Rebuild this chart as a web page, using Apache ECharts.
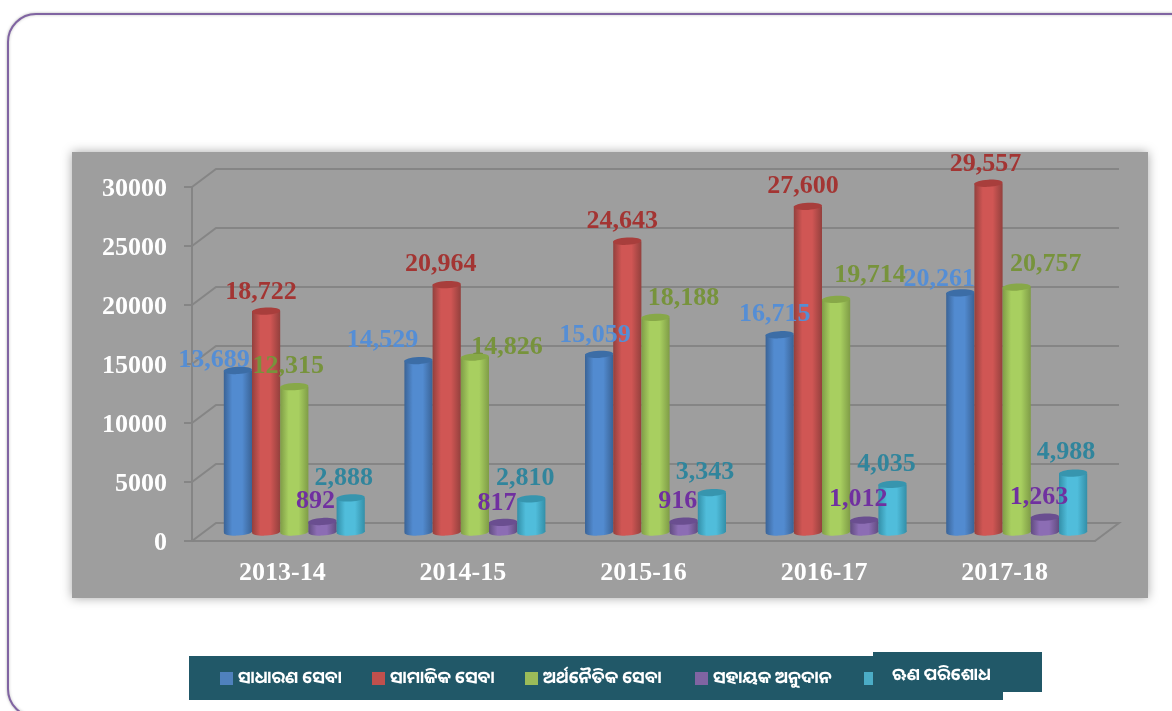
<!DOCTYPE html>
<html>
<head>
  <meta charset="utf-8">
  <title>Expenditure</title>
  <script src="https://cdn.jsdelivr.net/npm/echarts@6/dist/echarts.min.js"></script>
  <style>
    html, body { margin: 0; padding: 0; background: #fff; overflow: hidden; }
  </style>
</head>
<body>
  <div id="container" style="width: 1172px; height: 711px"></div>
  <script>
    var categories = ['2013-14', '2014-15', '2015-16', '2016-17', '2017-18'];
    var seriesNames = ['ସାଧାରଣ ସେବା', 'ସାମାଜିକ ସେବା', 'ଅର୍ଥନୈତିକ ସେବା', 'ସହାୟକ ଅନୁଦାନ', 'ଋଣ ପରିଶୋଧ'];
    var generalService = [13689, 14529, 15059, 16715, 20261];
    var socialService = [18722, 20964, 24643, 27600, 29557];
    var economicService = [12315, 14826, 18188, 19714, 20757];
    var grantsInAid = [892, 817, 916, 1012, 1263];
    var debtRepayment = [2888, 2810, 3343, 4035, 4988];
    var yTicks = [0, 5000, 10000, 15000, 20000, 25000, 30000];

    // per series look: legend, edge, middle, cap, label
    var barColors = ['#4f81bd', '#c0504d', '#9bbb59', '#8064a2', '#4bacc6'];
    var edgeColors = ['#3a6396', '#93403d', '#7f9c47', '#614c80', '#338fa8'];
    var midColors = ['#528bd0', '#d05654', '#a8cf60', '#8c6db4', '#50bddb'];
    var capColors = ['#3c6da6', '#a83e3c', '#87a848', '#6a4e90', '#3795ae'];
    var labelColors = ['#558ed5', '#a33533', '#77933c', '#7030a0', '#31859c'];

    // the data labels were placed by hand in the original, offset from the bar top
    var labelDx = [
      [-24, -36, -4, -5, -21],
      [-5, -6, -5, -5, -3],
      [-6, 32, 28, 34, 29],
      [-7, -6, -6, -6, -6],
      [-7, -6, -7, -6, -7]
    ];
    var labelDy = [
      [-10, -20, -19, -20, -14],
      [-19, -20, -20, -20, -19],
      [-20, -10, -19, -24, -23],
      [-20, -19, -20, -21, -20],
      [-20, -21, -20, -20, -21]
    ];
    var legendLeft = [220, 372, 525, 695, 864];

    var depthX = 24, depthY = 18;   // back wall offset
    var barShiftX = 12, barShiftY = 9; // bars stand half way in
    var barW = 28.2;
    var serif = '"Liberation Serif", "Times New Roman", serif';

    var dom = document.getElementById('container');
    var myChart = echarts.init(dom);

    function renderWall(params, api) {
      var cs = params.coordSys;
      var y = api.coord([0, api.value(0)])[1];
      var right = cs.x + cs.width;
      var pts = [[cs.x, y], [cs.x + depthX, y - depthY], [right + depthX, y - depthY]];
      if (api.value(0) === 0) {
        pts.push([right, y]);
      }
      return {
        type: 'polyline',
        shape: { points: pts },
        style: { stroke: '#858585', lineWidth: 2, fill: null },
        silent: true
      };
    }

    function makeBarRenderer(s) {
      return function (params, api) {
        var c = api.value(0), v = api.value(1);
        var top = api.coord([c, v]);
        var base = api.coord([c, 0]);
        var cx = top[0] + barShiftX + (s - 2) * barW;
        var ty = top[1] - barShiftY;
        var by = base[1] - barShiftY;
        var rx = barW / 2;
        var ry = 3.6;
        var tilt = 0.05;
        var grad = {
          type: 'linear', x: 0, y: 0, x2: 1, y2: 0,
          colorStops: [
            { offset: 0, color: edgeColors[s] },
            { offset: 0.3, color: midColors[s] },
            { offset: 0.65, color: midColors[s] },
            { offset: 1, color: edgeColors[s] }
          ]
        };
        return {
          type: 'group',
          children: [
            { type: 'rect', shape: { x: cx - rx, y: ty, width: barW, height: by - ty }, style: { fill: grad } },
            { type: 'ellipse', shape: { cx: 0, cy: 0, rx: rx, ry: ry }, x: cx, y: by, rotation: tilt, style: { fill: grad } },
            { type: 'ellipse', shape: { cx: 0, cy: 0, rx: rx, ry: ry }, x: cx, y: ty, rotation: tilt, style: { fill: capColors[s] } },
            {
              type: 'text',
              z2: 10,
              x: cx + labelDx[s][c],
              y: ty + labelDy[s][c],
              style: {
                text: v.toLocaleString('en-US'),
                fill: labelColors[s],
                font: 'bold 26px ' + serif,
                align: 'center',
                verticalAlign: 'middle'
              }
            }
          ]
        };
      };
    }

    var allValues = [generalService, socialService, economicService, grantsInAid, debtRepayment];
    var series = [{
      type: 'custom',
      z: 1,
      silent: true,
      renderItem: renderWall,
      encode: { y: 0 },
      data: yTicks.map(function (t) { return [t]; })
    }];
    allValues.forEach(function (vals, s) {
      series.push({
        type: 'custom',
        name: seriesNames[s],
        z: 2,
        renderItem: makeBarRenderer(s),
        itemStyle: { color: barColors[s] },
        encode: { x: 0, y: 1 },
        data: vals.map(function (v, c) { return [c, v]; })
      });
    });

    var tickFont = { color: '#fff', fontWeight: 'bold', fontSize: 26, fontFamily: serif };

    var option = {
      animation: false,
      graphic: [
        {
          type: 'rect', z: -3,
          shape: { x: 8, y: 14, width: 1300, height: 703, r: 28 },
          style: { fill: '#fff', stroke: '#8064a2', lineWidth: 2, shadowBlur: 3, shadowColor: 'rgba(0,0,0,0.25)' }
        },
        {
          type: 'rect', z: -2,
          shape: { x: 72, y: 152, width: 1076, height: 446 },
          style: { fill: '#9e9e9e', shadowBlur: 10, shadowColor: 'rgba(0,0,0,0.35)' }
        },
        { type: 'rect', z: -1, shape: { x: 189, y: 656, width: 814, height: 44 }, style: { fill: '#215868' } },
        { type: 'rect', z: -1, shape: { x: 873, y: 652, width: 169, height: 40 }, style: { fill: '#215868' } }
      ],
      legend: seriesNames.map(function (name, i) {
        var font = {
          color: '#fff',
          fontWeight: 'bold',
          fontSize: 17,
          fontFamily: '"Noto Sans Oriya", "Noto Sans", sans-serif'
        };
        return {
          data: [name],
          left: legendLeft[i],
          top: i === 4 ? 667 : 670,
          padding: 0,
          icon: 'rect',
          itemWidth: i === 4 ? 9 : 13,
          itemHeight: 13,
          selectedMode: false,
          // the last label sits a little higher, in its own box
          formatter: i === 4 ? '{raised|{name}}' : '{name}',
          textStyle: i === 4
            ? Object.assign({ rich: { raised: Object.assign({ padding: [0, 0, 6, 14] }, font) } }, font)
            : font
        };
      }),
      grid: { left: 192, right: 77, top: 187, bottom: 170 },
      xAxis: {
        type: 'category',
        data: categories,
        axisLine: { lineStyle: { color: '#858585', width: 2 } },
        axisTick: { length: 7, lineStyle: { color: '#858585', width: 2 } },
        axisLabel: Object.assign({ margin: 19 }, tickFont)
      },
      yAxis: {
        type: 'value',
        min: 0,
        max: 30000,
        interval: 5000,
        splitLine: { show: false },
        axisLine: { show: true, lineStyle: { color: '#858585', width: 2 } },
        axisTick: { show: true, length: 8, lineStyle: { color: '#858585', width: 2 } },
        axisLabel: Object.assign({
          margin: 25,
          formatter: function (v) { return '{t|' + v + '}'; },
          rich: { t: Object.assign({ padding: [4, 0, 0, 0] }, tickFont) }
        }, tickFont)
      },
      series: series
    };
    myChart.setOption(option);
    window.addEventListener('resize', myChart.resize);
  </script>
</body>
</html>
